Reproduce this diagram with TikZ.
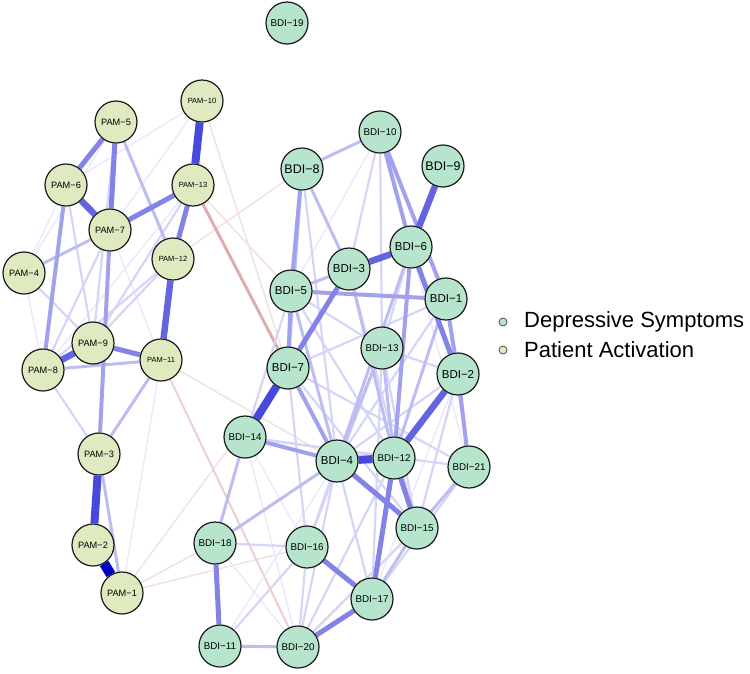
\documentclass[tikz,border=0pt]{standalone}
\usepackage{fontspec}
\setmainfont{Liberation Sans}
\pgfdeclarelayer{bg}
\pgfsetlayers{bg,main}
\definecolor{qblue}{RGB}{20,20,210}
\definecolor{qdark}{RGB}{0,0,200}
\definecolor{qred}{RGB}{170,40,40}
\definecolor{bdifill}{RGB}{183,228,205}
\definecolor{pamfill}{RGB}{224,234,193}
\tikzset{
  nd/.style={circle, draw=black!90, line width=1.2pt, minimum size=42pt, inner sep=0pt},
  bdi/.style={nd, fill=bdifill},
  pam/.style={nd, fill=pamfill},
  fA/.style={font=\fontsize{11.5}{12}\selectfont},
  fAA/.style={font=\fontsize{12.5}{13}\selectfont},
  fB/.style={font=\fontsize{9.8}{10}\selectfont},
  fC/.style={font=\fontsize{9.2}{10}\selectfont},
  fD/.style={font=\fontsize{7.5}{8}\selectfont},
  p1/.style={line width=1.5pt, draw=qblue!9},
  p2/.style={line width=2.2pt, draw=qblue!18},
  p3/.style={line width=3pt, draw=qblue!28},
  p4/.style={line width=4pt, draw=qblue!40},
  p5/.style={line width=5pt, draw=qblue!53},
  p6/.style={line width=6.5pt, draw=qblue!66},
  p7/.style={line width=8pt, draw=qblue!78},
  p8/.style={line width=10pt, draw=qdark},
  n1/.style={line width=1.5pt, draw=qred!14},
  n2/.style={line width=2pt, draw=qred!22},
  n3/.style={line width=3pt, draw=qred!38},
  legdot/.style={circle, draw=black!70, line width=0.8pt, minimum size=8pt, inner sep=0pt},
  legtxt/.style={anchor=west, inner sep=0pt, font=\fontsize{22}{24}\selectfont}
}
\begin{document}
\begin{tikzpicture}[x=1pt,y=-1pt]
\useasboundingbox (0,0) rectangle (750,673);
% PAM nodes
\node[pam,fD] (P10) at (202,101) {PAM−10};
\node[pam,fC] (P5) at (116,122) {PAM−5};
\node[pam,fC] (P6) at (66,185) {PAM−6};
\node[pam,fD] (P13) at (193,185) {PAM−13};
\node[pam,fC] (P7) at (110,230) {PAM−7};
\node[pam,fD] (P12) at (173,259) {PAM−12};
\node[pam,fC] (P4) at (24,273) {PAM−4};
\node[pam,fC] (P9) at (93,343) {PAM−9};
\node[pam,fD] (P11) at (161,360) {PAM−11};
\node[pam,fC] (P8) at (43,370) {PAM−8};
\node[pam,fC] (P3) at (99,454) {PAM−3};
\node[pam,fC] (P2) at (93,545) {PAM−2};
\node[pam,fC] (P1) at (122,593) {PAM−1};
% BDI nodes
\node[bdi,fB] (B19) at (287,23) {BDI−19};
\node[bdi,fB] (B10) at (380,132) {BDI−10};
\node[bdi,fAA] (B8) at (302,169) {BDI−8};
\node[bdi,fAA] (B9) at (443,166) {BDI−9};
\node[bdi,fA] (B6) at (411,247) {BDI−6};
\node[bdi,fA] (B3) at (349,269) {BDI−3};
\node[bdi,fA] (B5) at (291,291) {BDI−5};
\node[bdi,fA] (B1) at (446,299) {BDI−1};
\node[bdi,fB] (B13) at (382,348) {BDI−13};
\node[bdi,fA] (B7) at (288,368) {BDI−7};
\node[bdi,fA] (B2) at (458,374) {BDI−2};
\node[bdi,fB] (B14) at (245,437) {BDI−14};
\node[bdi,fA] (B4) at (337,461) {BDI−4};
\node[bdi,fB] (B12) at (394,458) {BDI−12};
\node[bdi,fB] (B21) at (469,467) {BDI−21};
\node[bdi,fB] (B15) at (417,528) {BDI−15};
\node[bdi,fB] (B18) at (215,543) {BDI−18};
\node[bdi,fB] (B16) at (307,547) {BDI−16};
\node[bdi,fB] (B17) at (372,599) {BDI−17};
\node[bdi,fB] (B11) at (220,646) {BDI−11};
\node[bdi,fB] (B20) at (298,647) {BDI−20};
% legend
\node[legdot, fill=bdifill] (L1) at (503,322) {};
\node[legtxt] (T1) at (524,322) {Depressive Symptoms};
\node[legdot, fill=pamfill] (L2) at (503,350) {};
\node[legtxt] (T2) at (524,350) {Patient Activation};
% edges
\begin{pgfonlayer}{bg}
\foreach \a/\b in {P13/B5,P11/B4,P1/B7,P1/B16,P1/B18,P12/B8,P10/B7}
  \draw[n1] (\a) -- (\b);
\draw[n2] (P11) -- (B20);
\draw[n3] (P13) -- (B7);
\foreach \a/\b in {P4/P8,P4/P5,P10/P7,P10/P6,P13/P8,P7/P11,P6/P4,P11/P1,
  B10/B5,B14/B16,B14/B20,B6/B21,B18/B20,B11/B4,B17/B2}
  \draw[p1] (\a) -- (\b);
\foreach \a/\b in {P6/P9,P4/P9,P5/P9,P12/P8,P12/P9,P13/P9,P8/P3,P7/P8,
  B10/B3,B10/B13,B8/B4,B3/B15,B1/B4,B1/B7,B6/B13,B13/B17,B13/B16,B13/B2,
  B14/B12,B7/B21,B7/B16,B7/B15,B21/B17,B18/B16,B4/B16,B4/B17,B4/B20,
  B15/B20,B2/B15,B16/B20,B11/B16,B5/B13,B5/B12,B5/B14,B1/B21,B2/B4,
  B13/B15,B12/B20,B14/B21}
  \draw[p2] (\a) -- (\b);
\foreach \a/\b in {P5/P12,P8/P11,P4/P7,P11/P3,P3/P1,
  B10/B8,B3/B5,B8/B3,B8/B7,B6/B4,B3/B12,B1/B12,B13/B4,B13/B12,
  B14/B18,B11/B20,B21/B15,B18/B4,B15/B17,B5/B4}
  \draw[p3] (\a) -- (\b);
\foreach \a/\b in {P7/P3,P6/P8,B10/B6,B10/B1,B1/B2,B5/B1,B8/B5,B5/B7,
  B6/B12,B2/B21,B14/B4,B7/B4}
  \draw[p4] (\a) -- (\b);
\foreach \a/\b in {P5/P6,P5/P7,P7/P13,P13/P12,P9/P11,
  B6/B2,B3/B7,B18/B11,B20/B17,B16/B17,B12/B17,B4/B15,B12/B15}
  \draw[p5] (\a) -- (\b);
\foreach \a/\b in {P6/P7,P12/P11,P9/P8,B9/B6,B6/B3,B12/B2}
  \draw[p6] (\a) -- (\b);
\foreach \a/\b in {P10/P13,P3/P2,B7/B14,B4/B12}
  \draw[p7] (\a) -- (\b);
\draw[p8] (P2) -- (P1);
\end{pgfonlayer}
\end{tikzpicture}
\end{document}
